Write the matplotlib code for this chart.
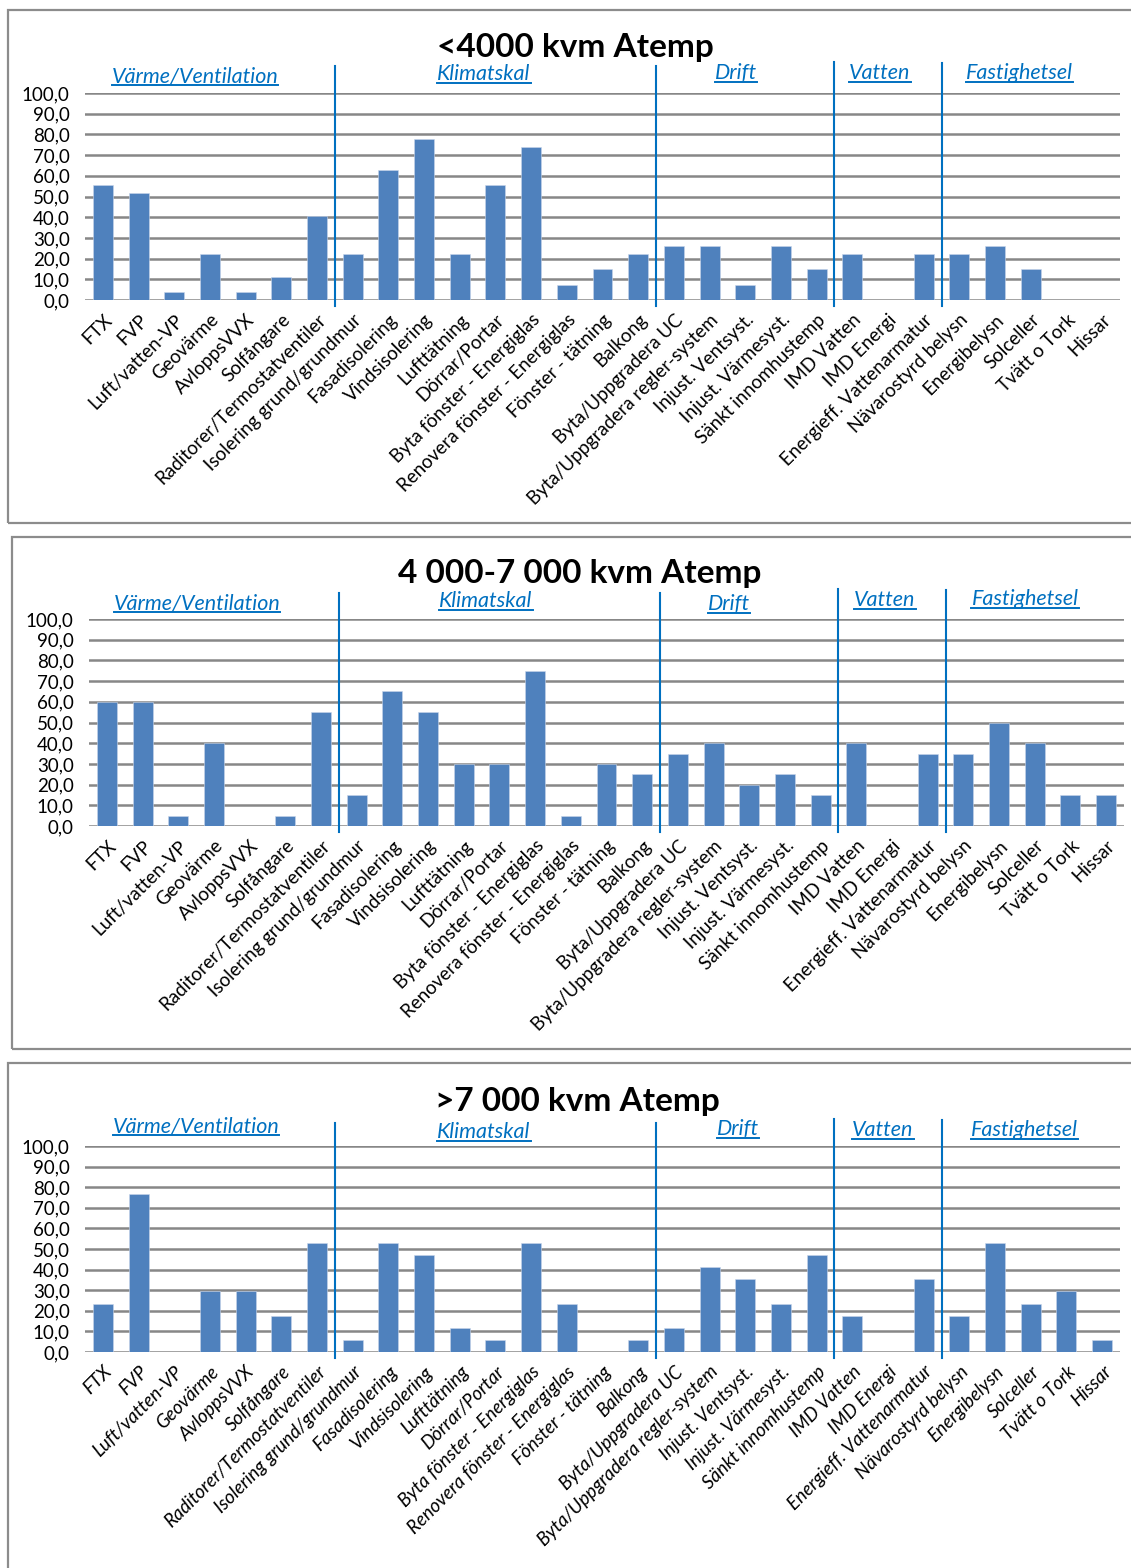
import matplotlib
matplotlib.use("Agg")
import matplotlib.pyplot as plt
from matplotlib.lines import Line2D
from matplotlib.patches import Rectangle
import matplotlib.transforms as mtransforms

plt.rcParams['font.family'] = ['Lato', 'DejaVu Sans']

categories = [
    "FTX", "FVP", "Luft/vatten-VP", "Geovärme", "AvloppsVVX", "Solfångare",
    "Raditorer/Termostatventiler", "Isolering grund/grundmur", "Fasadisolering",
    "Vindsisolering", "Lufttätning", "Dörrar/Portar", "Byta fönster - Energiglas",
    "Renovera fönster - Energiglas", "Fönster - tätning", "Balkong",
    "Byta/Uppgradera UC", "Byta/Uppgradera regler-system", "Injust. Ventsyst.",
    "Injust. Värmesyst.", "Sänkt innomhustemp", "IMD Vatten", "IMD Energi",
    "Energieff. Vattenarmatur", "Nävarostyrd belysn", "Energibelysn",
    "Solceller", "Tvätt o Tork", "Hissar",
]

small_values = [55.6, 51.9, 3.7, 22.2, 3.7, 11.1, 40.7, 22.2, 63.0, 77.8,
                22.2, 55.6, 74.1, 7.4, 14.8, 22.2, 25.9, 25.9, 7.4, 25.9,
                14.8, 22.2, 0.0, 22.2, 22.2, 25.9, 14.8, 0.0, 0.0]
medium_values = [60, 60, 5, 40, 0, 5, 55, 15, 65, 55,
                 30, 30, 75, 5, 30, 25, 35, 40, 20, 25,
                 15, 40, 0, 35, 35, 50, 40, 15, 15]
large_values = [23.5, 76.5, 0.0, 29.4, 29.4, 17.6, 52.9, 5.9, 52.9, 47.1,
                11.8, 5.9, 52.9, 23.5, 0.0, 5.9, 11.8, 41.2, 35.3, 23.5,
                47.1, 17.6, 0.0, 35.3, 17.6, 52.9, 23.5, 29.4, 5.9]

titles = ["<4000 kvm Atemp", "4 000-7 000 kvm Atemp", ">7 000 kvm Atemp"]
sections = ["Värme/Ventilation", "Klimatskal", "Drift", "Vatten", "Fastighetsel"]
# index after which each section divider falls
section_breaks = [7, 16, 21, 24]
yticks = [0, 10, 20, 30, 40, 50, 60, 70, 80, 90, 100]

W, H = 1131, 1568
fig = plt.figure(figsize=(W / 100, H / 100), dpi=100)

BAR = "#4F81BD"
GRID = "#878787"
LINK = "#0070C0"


def fx(x):
    return x / W


def fy(y):
    return 1 - y / H


# per-panel layout in pixels
panels = [
    dict(values=small_values, box=(8, 10, 523), ax=(85, 1120, 93, 300),
         title=(575, 48), sec=[(195, 76), (484, 74), (736, 73), (880, 73), (1019, 73)],
         line_top=[66, 66, 62, 63], italic=False),
    dict(values=medium_values, box=(12, 537, 1049), ax=(89, 1124, 619, 826),
         title=(580, 574), sec=[(197, 603), (486, 601), (729, 604), (885, 600), (1025, 599)],
         line_top=[593, 593, 589, 590], italic=False),
    dict(values=large_values, box=(8, 1063, 1600), ax=(85, 1120, 1146, 1352),
         title=(577, 1101), sec=[(196, 1126), (484, 1132), (738, 1129), (883, 1130), (1024, 1130)],
         line_top=[1123, 1123, 1119, 1120], italic=True),
]

section_texts = []
for p, title in zip(panels, titles):
    bx, btop, bbot = p["box"]
    fig.patches.append(Rectangle((fx(bx), fy(bbot)), fx(1200 - bx), (bbot - btop) / H,
                                 transform=fig.transFigure, fill=False,
                                 edgecolor="#8c8c8c", linewidth=1.6))
    l, r, t, b = p["ax"]
    ax = fig.add_axes([fx(l), fy(b), (r - l) / W, (b - t) / H])
    x = list(range(len(categories)))
    ax.bar(x, p["values"], width=0.56, color=BAR, edgecolor="#c9d6ea",
           linewidth=0.4, zorder=3)
    for v in yticks:
        ax.axhline(v, color=GRID, linewidth=1.8, zorder=1)
    ax.set_xlim(-0.5, len(categories) - 0.5)
    ax.set_ylim(0, 100)
    for s in ax.spines.values():
        s.set_visible(False)
    ax.set_yticks(yticks)
    ax.set_yticklabels([f"{v:.1f}".replace(".", ",") for v in yticks], fontsize=13.5)
    ax.tick_params(axis="y", length=0, pad=11)
    ax.set_xticks(x)
    ax.set_xticklabels(categories, rotation=45, ha="right", rotation_mode="anchor",
                       fontsize=13.5, style="italic" if p["italic"] else "normal")
    ax.tick_params(axis="x", length=0, pad=8)

    trans = mtransforms.blended_transform_factory(ax.transData, ax.transAxes)
    for brk, top in zip(section_breaks, p["line_top"]):
        ytop = (b - top) / (b - t)
        ax.add_line(Line2D([brk - 0.5, brk - 0.5], [-0.03, ytop], transform=trans,
                           color=LINK, linewidth=1.5, clip_on=False, zorder=4))

    fig.text(fx(p["title"][0]), fy(p["title"][1]), title, ha="center", va="center",
             fontsize=24, fontweight="bold", color="black")
    for name, (sx, sy) in zip(sections, p["sec"]):
        txt = fig.text(fx(sx), fy(sy), name, ha="center", va="center",
                       fontsize=15.5, style="italic", color=LINK)
        section_texts.append(txt)

# underline the section headings
fig.canvas.draw()
renderer = fig.canvas.get_renderer()
for txt in section_texts:
    bb = txt.get_window_extent(renderer)
    yline = bb.y0 + 1
    fig.lines.append(Line2D([bb.x0 / W, bb.x1 / W], [yline / H, yline / H],
                            transform=fig.transFigure, color=LINK, linewidth=1.4))

fig.savefig("out.png", dpi=100, facecolor="white")
